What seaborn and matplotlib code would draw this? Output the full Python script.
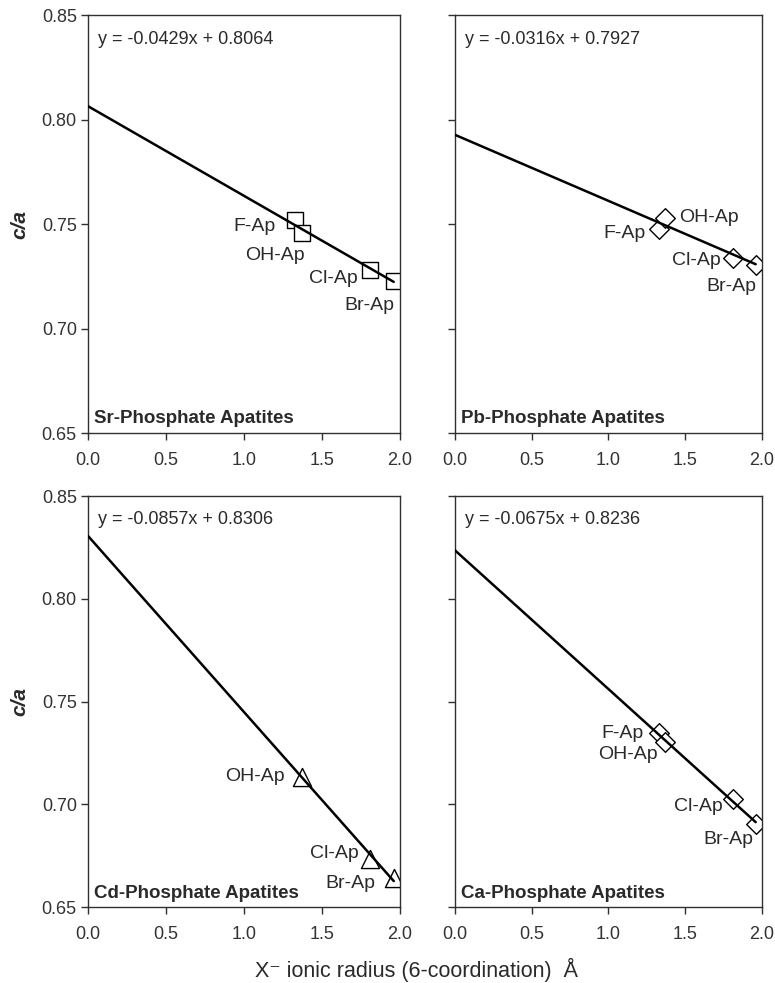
import numpy as np
import pandas as pd
import matplotlib
matplotlib.use("Agg")
import matplotlib.pyplot as plt
import seaborn as sns

sns.set_theme(style="white")
plt.rcParams["font.family"] = ["Liberation Sans", "DejaVu Sans"]

# X- ionic radius (6-coordination), Å
radius = {"F-Ap": 1.33, "OH-Ap": 1.37, "Cl-Ap": 1.81, "Br-Ap": 1.96}

# c/a ratios per apatite series
sr_labels = ["F-Ap", "OH-Ap", "Cl-Ap", "Br-Ap"]
sr_ca = [0.752, 0.7457, 0.728, 0.7227]
pb_labels = ["F-Ap", "OH-Ap", "Cl-Ap", "Br-Ap"]
pb_ca = [0.7476, 0.7529, 0.7337, 0.7304]
cd_labels = ["OH-Ap", "Cl-Ap", "Br-Ap"]
cd_ca = [0.7134, 0.6735, 0.6640]
ca_labels = ["F-Ap", "OH-Ap", "Cl-Ap", "Br-Ap"]
ca_ca = [0.7345, 0.7305, 0.7028, 0.6906]

# linear fits (slope, intercept)
sr_fit = (-0.0429, 0.8064)
pb_fit = (-0.0316, 0.7927)
cd_fit = (-0.0857, 0.8306)
ca_fit = (-0.0675, 0.8236)

PX = 72 / 100  # pixel -> point at 100 dpi

panels = [
    dict(name="Sr-Phosphate Apatites", labels=sr_labels, vals=sr_ca, fit=sr_fit,
         marker="s", ms=125,
         pos=[0.1135, 0.5595, 0.4026, 0.4252],
         offs={"F-Ap": (-20, 7, "right"), "OH-Ap": (3, 22, "right"),
               "Cl-Ap": (-13, 8, "right"), "Br-Ap": (1, 24, "right")}),
    dict(name="Pb-Phosphate Apatites", labels=pb_labels, vals=pb_ca, fit=pb_fit,
         marker="D", ms=100,
         pos=[0.587, 0.5595, 0.396, 0.4252],
         offs={"F-Ap": (-13, 4, "right"), "OH-Ap": (14, 0, "left"),
               "Cl-Ap": (-12, 2, "right"), "Br-Ap": (1, 22, "right")}),
    dict(name="Cd-Phosphate Apatites", labels=cd_labels, vals=cd_ca, fit=cd_fit,
         marker="^", ms=170,
         pos=[0.1135, 0.0773, 0.4026, 0.4181],
         offs={"OH-Ap": (-17, 0, "right"), "Cl-Ap": (-12, -5, "right"),
               "Br-Ap": (-18, 5, "right")}),
    dict(name="Ca-Phosphate Apatites", labels=ca_labels, vals=ca_ca, fit=ca_fit,
         marker="D", ms=100,
         pos=[0.587, 0.0773, 0.396, 0.4181],
         offs={"F-Ap": (-15, 0, "right"), "OH-Ap": (-7, 13, "right"),
               "Cl-Ap": (-10, 8, "right"), "Br-Ap": (-2, 16, "right")}),
]

fig = plt.figure(figsize=(7.75, 9.83), dpi=100)
spine_col = "#303030"
text_col = "#2a2a2a"

for i, p in enumerate(panels):
    ax = fig.add_axes(p["pos"])
    df = pd.DataFrame({"label": p["labels"],
                       "r": [radius[l] for l in p["labels"]],
                       "ca": p["vals"]})
    slope, icpt = p["fit"]
    xs = np.array([0.0, df["r"].max()])
    line = pd.DataFrame({"r": xs, "ca": slope * xs + icpt})
    sns.lineplot(data=line, x="r", y="ca", ax=ax, color="black", lw=1.8, zorder=3)
    sns.scatterplot(data=df, x="r", y="ca", ax=ax, marker=p["marker"], s=p["ms"],
                    facecolor="white", edgecolor="black", linewidth=1.0, zorder=2)
    for _, row in df.iterrows():
        dx, dy, ha = p["offs"][row["label"]]
        ax.annotate(row["label"], (row["r"], row["ca"]),
                    xytext=(dx * PX, -dy * PX), textcoords="offset points",
                    ha=ha, va="center", fontsize=14, color=text_col)
    ax.text(0.032, 0.942, f"y = {slope:.4f}x + {icpt:.4f}", transform=ax.transAxes,
            fontsize=13, ha="left", va="center", color=text_col)
    ax.text(0.02, 0.034, p["name"], transform=ax.transAxes, fontsize=13.5,
            fontweight="bold", ha="left", va="center", color=text_col)

    ax.set_xlim(0, 2.0)
    ax.set_ylim(0.65, 0.85)
    ax.set_xticks(np.arange(0, 2.01, 0.5))
    ax.set_yticks(np.arange(0.65, 0.851, 0.05))
    ax.xaxis.set_major_formatter(matplotlib.ticker.FormatStrFormatter("%.1f"))
    ax.yaxis.set_major_formatter(matplotlib.ticker.FormatStrFormatter("%.2f"))
    ax.tick_params(axis="both", direction="out", length=5, width=1, color=spine_col,
                   labelsize=13, labelcolor="#333333", left=True, bottom=True, pad=3)
    ax.tick_params(axis="x", pad=8.5)
    for s in ax.spines.values():
        s.set_color(spine_col)
        s.set_linewidth(1.0)
    ax.set_xlabel("")
    if i % 2 == 0:
        ax.set_ylabel("c/a", fontsize=15, fontweight="bold", fontstyle="italic",
                      color=text_col, labelpad=9)
    else:
        ax.set_ylabel("")
        ax.tick_params(axis="y", labelleft=False)

fig.text(0.537, 0.0135, "X\u207b ionic radius (6-coordination)  Å", ha="center",
         va="center", fontsize=15.5, color=text_col)

fig.savefig("out.png", dpi=100)
